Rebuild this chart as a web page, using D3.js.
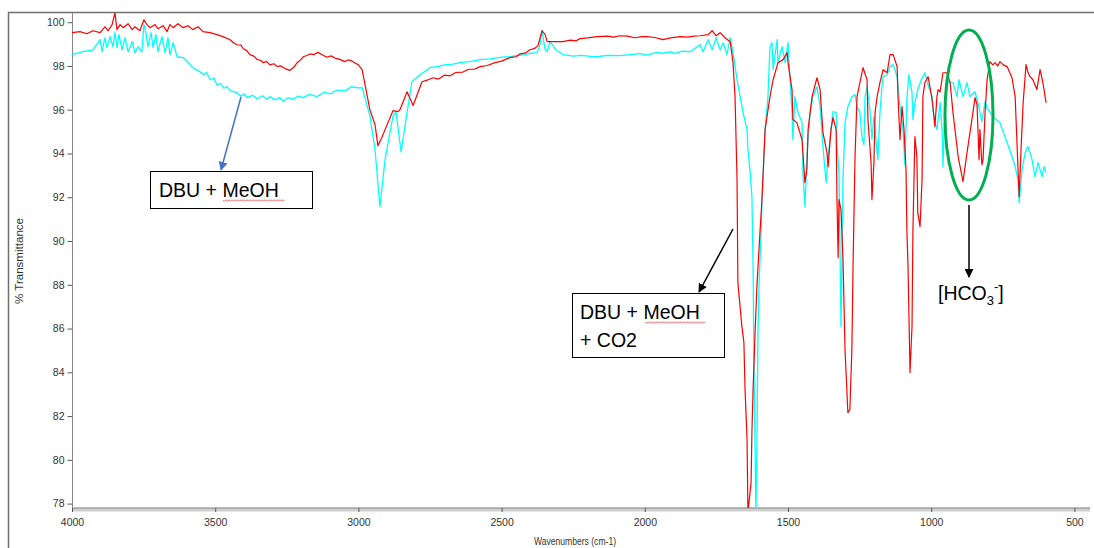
<!DOCTYPE html>
<html><head><meta charset="utf-8">
<script src="https://cdn.jsdelivr.net/npm/d3@7"></script>
<style>body{margin:0;background:#fff}svg{display:block}</style>
</head><body><svg id="chart" width="1094" height="548"></svg>
<script>
// ---- data ----
const xTickValues = [4000, 3500, 3000, 2500, 2000, 1500, 1000, 500];
const yTickValues = [78, 80, 82, 84, 86, 88, 90, 92, 94, 96, 98, 100];
const xDomain = [4000, 445.6];
const yDomain = [77.8, 100.42];
const xTitle = "Wavenumbers (cm-1)";
const yTitle = "% Transmittance";
const seriesNames = ["DBU + MeOH", "DBU + MeOH + CO2"];

// DBU + MeOH + CO2 (red): [wavenumber, %T]
const redSeries = [[4000,99.52],[3972,99.57],[3948,99.47],[3927,99.61],[3902,99.52],[3885,99.79],[3874,99.61],[3860,99.89],[3850,100.43],[3843,99.66],[3832,99.89],[3822,99.75],[3804,99.93],[3790,99.66],[3780,99.79],[3763,99.61],[3749,100.11],[3738,99.89],[3728,99.75],[3710,99.89],[3700,99.70],[3682,99.84],[3668,99.57],[3658,99.89],[3647,99.75],[3630,99.93],[3612,99.75],[3595,99.84],[3578,99.66],[3560,99.79],[3543,99.57],[3518,99.52],[3494,99.43],[3473,99.34],[3448,99.20],[3435,99.05],[3424,98.97],[3410,98.95],[3403,98.80],[3390,98.70],[3379,98.52],[3365,98.45],[3354,98.30],[3340,98.25],[3333,98.15],[3320,98.20],[3309,98.05],[3295,98.10],[3284,97.98],[3270,98.00],[3256,97.88],[3239,97.80],[3225,97.95],[3214,98.15],[3200,98.30],[3193,98.42],[3180,98.48],[3169,98.55],[3155,98.52],[3141,98.62],[3125,98.50],[3110,98.40],[3095,98.46],[3082,98.36],[3065,98.30],[3047,98.20],[3035,98.28],[3022,98.22],[3010,98.12],[3001,98.06],[2987,97.83],[2960,96.00],[2942,95.32],[2932,94.36],[2918,94.73],[2907,95.09],[2879,95.96],[2862,95.91],[2855,96.00],[2830,96.82],[2809,96.19],[2778,97.28],[2760,97.35],[2740,97.46],[2720,97.40],[2700,97.58],[2680,97.55],[2660,97.70],[2635,97.72],[2615,97.85],[2595,97.85],[2575,97.97],[2550,98.02],[2523,98.15],[2500,98.22],[2471,98.38],[2450,98.42],[2436,98.55],[2415,98.60],[2401,98.74],[2385,98.80],[2373,98.93],[2359,99.61],[2348,99.43],[2341,99.11],[2314,99.11],[2286,99.11],[2260,99.18],[2240,99.15],[2226,99.25],[2200,99.28],[2167,99.34],[2130,99.36],[2110,99.32],[2087,99.38],[2060,99.36],[2034,99.29],[2010,99.34],[1992,99.34],[1965,99.30],[1937,99.20],[1910,99.28],[1877,99.34],[1850,99.32],[1830,99.36],[1807,99.38],[1779,99.43],[1765,99.61],[1751,99.38],[1737,99.52],[1720,99.29],[1702,99.11],[1692,98.15],[1685,96.60],[1678,92.81],[1675,88.10],[1661,86.09],[1654,85.36],[1650,83.21],[1643,80.93],[1640,77.6],[1629,78.96],[1626,81.25],[1622,83.21],[1615,85.81],[1608,88.10],[1598,90.38],[1591,91.89],[1580,95.09],[1563,96.60],[1552,97.37],[1535,98.15],[1517,98.29],[1503,98.61],[1500,98.15],[1486,96.92],[1483,95.55],[1469,95.41],[1451,94.63],[1441,92.67],[1434,93.26],[1430,95.09],[1416,96.60],[1399,97.46],[1388,96.92],[1378,94.95],[1364,94.04],[1360,93.40],[1350,95.09],[1343,95.64],[1332,95.09],[1329,91.89],[1325,89.24],[1322,91.89],[1315,91.43],[1308,89.15],[1301,85.04],[1291,82.16],[1284,82.30],[1277,85.04],[1273,88.83],[1266,93.86],[1259,96.60],[1249,97.24],[1238,97.92],[1224,97.37],[1221,95.55],[1210,93.58],[1207,91.89],[1200,93.58],[1196,95.87],[1189,96.60],[1179,97.24],[1168,97.83],[1154,97.69],[1144,98.52],[1133,98.52],[1119,97.97],[1116,96.60],[1109,94.63],[1102,96.14],[1095,95.09],[1088,93.26],[1085,90.52],[1081,88.83],[1074,83.99],[1067,86.09],[1064,90.38],[1057,94.77],[1050,93.86],[1047,91.30],[1039,90.66],[1032,92.81],[1029,96.60],[1022,97.24],[1011,97.51],[1004,97.01],[997,96.46],[994,96.14],[987,95.23],[980,96.60],[976,96.92],[969,96.82],[959,97.69],[945,97.69],[934,97.24],[924,95.87],[906,93.86],[889,92.71],[875,94.04],[858,95.55],[847,96.55],[840,96.23],[833,93.72],[830,95.09],[823,93.49],[819,93.72],[812,95.87],[805,97.37],[795,98.20],[785,98.05],[777,98.15],[768,98.00],[760,98.20],[748,98.05],[735,97.97],[718,97.46],[707,96.60],[700,94.31],[693,92.03],[686,94.31],[679,96.32],[669,98.06],[662,97.70],[655,97.51],[645,97.37],[631,96.92],[620,97.83],[610,97.24],[599,96.32]];

// DBU + MeOH (cyan): [wavenumber, %T]
const cyanSeries = [[4000,98.52],[3962,98.65],[3927,98.74],[3902,99.20],[3895,98.65],[3885,99.29],[3878,98.84],[3867,99.34],[3857,98.88],[3850,99.52],[3843,98.84],[3836,99.43],[3825,98.74],[3815,99.29],[3804,98.65],[3790,99.11],[3780,98.61],[3770,98.88],[3756,98.65],[3749,99.89],[3742,99.52],[3735,98.88],[3724,99.52],[3717,98.84],[3707,99.43],[3700,98.65],[3686,99.34],[3675,98.61],[3665,99.29],[3658,98.52],[3647,99.06],[3633,98.42],[3612,98.38],[3595,98.15],[3578,97.92],[3553,97.74],[3540,97.60],[3530,97.70],[3518,97.37],[3505,97.45],[3494,97.14],[3480,97.20],[3470,96.98],[3459,97.05],[3445,96.85],[3424,96.78],[3410,96.62],[3400,96.72],[3389,96.55],[3370,96.66],[3354,96.50],[3335,96.64],[3320,96.48],[3309,96.60],[3290,96.45],[3275,96.56],[3263,96.40],[3245,96.55],[3228,96.48],[3210,96.62],[3193,96.55],[3170,96.70],[3145,96.60],[3120,96.80],[3099,96.72],[3075,96.90],[3047,96.86],[3025,97.05],[3001,97.00],[2987,97.01],[2960,95.73],[2942,94.18],[2925,91.57],[2907,93.72],[2879,95.73],[2869,95.91],[2851,94.08],[2834,95.55],[2813,97.28],[2785,97.60],[2750,97.92],[2720,97.98],[2700,98.05],[2670,98.08],[2645,98.15],[2610,98.20],[2575,98.29],[2540,98.32],[2500,98.40],[2471,98.42],[2430,98.50],[2400,98.58],[2376,98.61],[2366,98.97],[2359,99.61],[2348,98.74],[2341,98.65],[2331,99.11],[2310,98.74],[2286,98.52],[2250,98.45],[2220,98.48],[2190,98.44],[2167,98.42],[2130,98.48],[2087,98.47],[2050,98.52],[2017,98.56],[1990,98.50],[1960,98.62],[1937,98.58],[1910,98.64],[1895,98.58],[1870,98.68],[1842,98.65],[1807,98.97],[1797,98.65],[1779,99.20],[1765,98.74],[1751,99.29],[1737,98.74],[1726,99.06],[1713,98.52],[1702,99.29],[1692,98.61],[1678,97.37],[1667,96.60],[1657,95.87],[1643,95.09],[1640,94.18],[1633,93.26],[1626,92.03],[1622,88.83],[1619,84.26],[1615,80.47],[1612,77.5],[1608,81.25],[1605,85.81],[1601,88.10],[1594,90.38],[1591,91.75],[1580,95.09],[1570,96.60],[1563,98.88],[1556,99.06],[1552,97.83],[1538,99.20],[1535,98.15],[1521,98.88],[1510,98.15],[1500,99.06],[1493,97.37],[1486,95.87],[1483,94.63],[1476,96.60],[1465,95.87],[1451,95.41],[1448,93.12],[1441,91.57],[1434,93.86],[1423,95.87],[1413,96.60],[1399,97.05],[1388,96.14],[1378,94.31],[1367,92.67],[1360,93.86],[1346,95.55],[1343,95.91],[1332,95.87],[1329,94.31],[1322,93.12],[1318,89.15],[1315,86.09],[1311,89.61],[1308,92.81],[1301,95.41],[1291,96.14],[1277,96.60],[1266,96.69],[1259,96.14],[1249,95.87],[1242,94.77],[1235,94.41],[1231,96.60],[1224,97.05],[1214,96.00],[1207,94.63],[1200,95.68],[1189,94.04],[1186,93.72],[1179,95.87],[1172,97.05],[1168,97.51],[1154,97.60],[1144,97.97],[1133,98.06],[1119,97.51],[1109,96.14],[1098,94.95],[1092,93.49],[1085,96.46],[1078,97.60],[1067,96.78],[1064,95.55],[1057,96.32],[1047,96.92],[1032,97.46],[1022,97.69],[1011,97.14],[997,96.60],[994,96.00],[987,95.41],[980,95.09],[969,96.32],[962,95.09],[959,93.40],[952,96.32],[941,97.28],[924,97.24],[910,96.60],[903,97.37],[889,96.60],[875,97.24],[865,96.60],[847,96.82],[837,96.32],[823,95.45],[812,96.37],[802,96.00],[784,95.68],[760,95.41],[735,94.49],[718,93.86],[707,93.40],[697,92.80],[693,91.75],[683,93.26],[672,94.04],[662,94.31],[648,93.72],[638,92.94],[627,93.58],[613,92.94],[606,93.40],[599,93.12]];

// ---- drawing ----
const svg = d3.select("#chart");
const W = 1094, H = 548;
const plot = {left: 72, right: 1090, top: 13, bottom: 508};

svg.append("rect").attr("width", W).attr("height", H).attr("fill", "#fff");

// window frame
svg.append("path").attr("d", `M8.5,${H} V12.5 H${W}`).attr("fill", "none")
  .attr("stroke", "#707070").attr("stroke-width", 1.5);

const x = d3.scaleLinear().domain(xDomain).range([plot.left, plot.right]);
const y = d3.scaleLinear().domain(yDomain).range([plot.bottom, plot.top]);

const defs = svg.append("defs");
defs.append("clipPath").attr("id", "clip").append("rect")
  .attr("x", plot.left).attr("y", plot.top)
  .attr("width", plot.right - plot.left).attr("height", plot.bottom - plot.top);

function marker(id, color) {
  defs.append("marker").attr("id", id).attr("viewBox", "0 0 10 10")
    .attr("refX", 9).attr("refY", 5).attr("markerWidth", 9).attr("markerHeight", 9)
    .attr("markerUnits", "userSpaceOnUse").attr("orient", "auto")
    .append("path").attr("d", "M0,0 L10,5 L0,10 z").attr("fill", color);
}
marker("arrBlack", "#000");
marker("arrBlue", "#4472C4");

// y axis
const yMinor = d3.range(78, 100.01, 0.5).filter(v => Math.abs(v % 2) > 1e-6);
const yAxisG = svg.append("g").attr("transform", `translate(${plot.left + 0.5},0)`);
yAxisG.call(d3.axisLeft(y).tickValues(yMinor).tickSize(3).tickFormat(""));
yAxisG.call(d3.axisLeft(y).tickValues(yTickValues).tickSize(5).tickPadding(3).tickFormat(d3.format("d")));
yAxisG.select(".domain").remove();
yAxisG.selectAll("line").attr("stroke", "#555");
yAxisG.selectAll("text").attr("font-family", "Liberation Sans, Arial, sans-serif")
  .attr("font-size", 10.5).attr("fill", "#333");
svg.append("line").attr("x1", plot.left + 0.5).attr("x2", plot.left + 0.5)
  .attr("y1", plot.top).attr("y2", plot.bottom).attr("stroke", "#888").attr("stroke-width", 1);

// x axis
svg.append("line").attr("x1", plot.left).attr("x2", plot.right)
  .attr("y1", plot.bottom + 1.5).attr("y2", plot.bottom + 1.5).attr("stroke", "#cfcfcf").attr("stroke-width", 4);
svg.append("line").attr("x1", plot.left).attr("x2", plot.right)
  .attr("y1", plot.bottom).attr("y2", plot.bottom).attr("stroke", "#8a8a8a").attr("stroke-width", 1);
const xMinor = d3.range(4000, 499, -100).filter(v => v % 500 !== 0);
const xAxisG = svg.append("g").attr("transform", `translate(0,${plot.bottom})`);
xAxisG.call(d3.axisBottom(x).tickValues(xMinor).tickSize(3).tickFormat(""));
xAxisG.call(d3.axisBottom(x).tickValues(xTickValues).tickSize(4).tickPadding(7).tickFormat(d3.format("d")));
xAxisG.select(".domain").remove();
xAxisG.selectAll("line").attr("stroke", "#555");
xAxisG.selectAll("text").attr("font-family", "Liberation Sans, Arial, sans-serif")
  .attr("font-size", 10.5).attr("fill", "#333");

// axis titles
svg.append("text").attr("x", 575).attr("y", 545).attr("text-anchor", "middle")
  .attr("font-family", "Liberation Sans Narrow, Liberation Sans, Arial, sans-serif")
  .attr("font-size", 11).attr("fill", "#333").attr("textLength", 82).attr("lengthAdjust", "spacingAndGlyphs")
  .text(xTitle);
svg.append("text").attr("transform", "translate(23,261) rotate(-90)").attr("text-anchor", "middle")
  .attr("font-family", "Liberation Sans Narrow, Liberation Sans, Arial, sans-serif")
  .attr("font-size", 11).attr("fill", "#333").attr("textLength", 86).attr("lengthAdjust", "spacingAndGlyphs")
  .text(yTitle);

// spectra
const line = d3.line().x(d => x(d[0])).y(d => y(d[1]));
const g = svg.append("g").attr("clip-path", "url(#clip)");
g.append("path").datum(cyanSeries).attr("d", line).attr("fill", "none")
  .attr("stroke", "#00FFFF").attr("stroke-width", 1.3).attr("stroke-linejoin", "round");
g.append("path").datum(redSeries).attr("d", line).attr("fill", "none")
  .attr("stroke", "#FF0000").attr("stroke-width", 1.2).attr("stroke-linejoin", "round");

// ---- annotations ----
const annFont = "Liberation Sans, Arial, sans-serif";
function squiggle(x0, x1, yy) {
  let d = `M${x0},${yy}`;
  for (let xx = x0 + 1.5, k = 0; xx <= x1; xx += 1.5, k++) d += ` L${xx},${yy + (k % 2 ? -0.8 : 0.8)}`;
  svg.append("path").attr("d", d).attr("fill", "none").attr("stroke", "#e03030").attr("stroke-width", 0.7);
}

// box 1
svg.append("line").attr("x1", 241).attr("y1", 97).attr("x2", 221).attr("y2", 170)
  .attr("stroke", "#4472C4").attr("stroke-width", 1.5).attr("marker-end", "url(#arrBlue)");
svg.append("rect").attr("x", 150.5).attr("y", 171.5).attr("width", 162).attr("height", 37)
  .attr("fill", "#fff").attr("stroke", "#000").attr("stroke-width", 1);
svg.append("text").attr("x", 159).attr("y", 197).attr("font-family", annFont).attr("font-size", 19.5)
  .attr("fill", "#000").text(seriesNames[0]);
squiggle(223, 285, 200.5);

// box 2
svg.append("line").attr("x1", 733).attr("y1", 229).attr("x2", 699).attr("y2", 292)
  .attr("stroke", "#000").attr("stroke-width", 1.5).attr("marker-end", "url(#arrBlack)");
svg.append("rect").attr("x", 572.5).attr("y", 293.5).attr("width", 152).attr("height", 64)
  .attr("fill", "#fff").attr("stroke", "#000").attr("stroke-width", 1);
svg.append("text").attr("x", 580).attr("y", 319).attr("font-family", annFont).attr("font-size", 19.5)
  .attr("fill", "#000").text("DBU + MeOH");
svg.append("text").attr("x", 580).attr("y", 347).attr("font-family", annFont).attr("font-size", 19.5)
  .attr("fill", "#000").text("+ CO2");
squiggle(645, 705, 322.5);

// HCO3- region
svg.append("ellipse").attr("cx", 969).attr("cy", 115).attr("rx", 24).attr("ry", 85)
  .attr("fill", "none").attr("stroke", "#00B050").attr("stroke-width", 3);
svg.append("line").attr("x1", 969).attr("y1", 205).attr("x2", 969).attr("y2", 277)
  .attr("stroke", "#000").attr("stroke-width", 1.5).attr("marker-end", "url(#arrBlack)");
const t = svg.append("text").attr("x", 938).attr("y", 300).attr("font-family", annFont)
  .attr("font-size", 19.5).attr("fill", "#000");
t.append("tspan").text("[HCO");
t.append("tspan").attr("font-size", 13).attr("dy", 5).text("3");
t.append("tspan").attr("font-size", 13).attr("dy", -14).text("-");
t.append("tspan").attr("dy", 9).text("]");
</script>
</body></html>
